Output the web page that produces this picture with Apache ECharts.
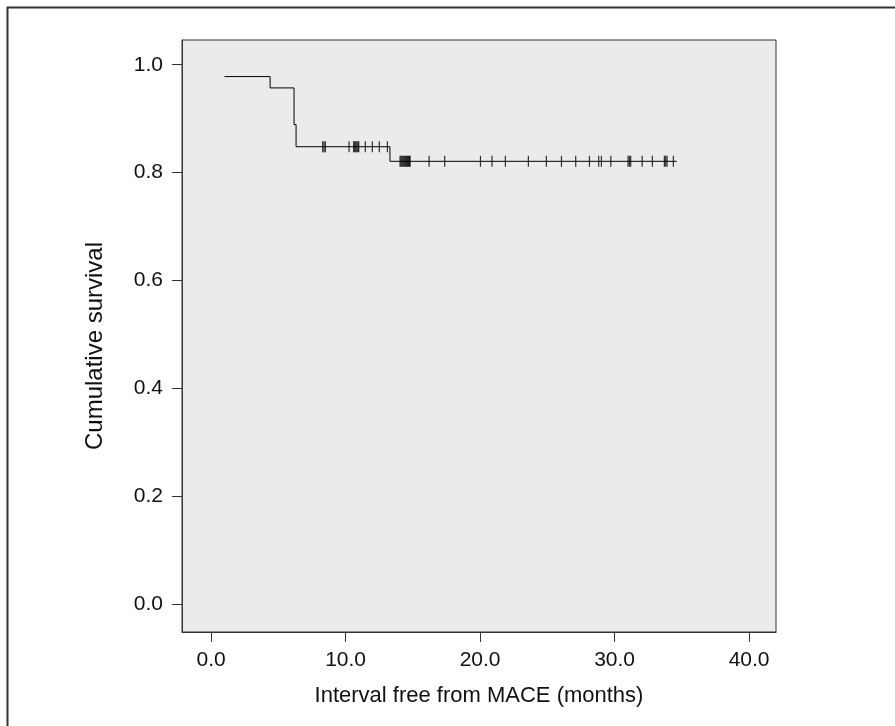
<!DOCTYPE html>
<html>
<head>
<meta charset="utf-8">
<script src="https://cdn.jsdelivr.net/npm/echarts@6/dist/echarts.min.js"></script>
<style>
html,body{margin:0;padding:0;background:#fff;}
#c{width:895px;height:726px;}
</style>
</head>
<body>
<div id="c"></div>
<script>
// Kaplan-Meier step curve: times where survival changes and survival after each
var stepTimes = [1.0, 4.39, 6.17, 6.32, 13.3];
var stepSurv  = [0.978, 0.957, 0.889, 0.848, 0.821];
var lastTime  = 34.62;

// censored observations (tick marks)
var censorHighTimes = [8.3, 8.4, 8.5, 10.26, 10.6, 10.68, 10.76, 10.84, 10.92, 10.98, 11.47, 11.99, 12.51, 13.11];
var censorHighLevel = 0.848;
var censorLowTimes = [14.05, 14.12, 14.19, 14.26, 14.33, 14.40, 14.47, 14.54, 14.61, 14.68, 14.75, 14.8,
  16.21, 17.37, 20.03, 20.89, 21.88, 23.59, 24.93, 26.05, 27.11, 28.13, 28.82, 29.02, 29.72,
  31.0, 31.1, 31.2, 32.05, 32.81, 33.7, 33.8, 33.9, 34.37];
var censorLowLevel = 0.821;

var xTicks = [0, 10, 20, 30, 40];
var yTicks = [0, 0.2, 0.4, 0.6, 0.8, 1.0];
var xTitle = 'Interval free from MACE (months)';
var yTitle = 'Cumulative survival';

var lineData = stepTimes.map(function(t, i){ return [t, stepSurv[i]]; });
lineData.push([lastTime, stepSurv[stepSurv.length - 1]]);
var censorData = censorHighTimes.map(function(t){ return [t, censorHighLevel]; })
  .concat(censorLowTimes.map(function(t){ return [t, censorLowLevel]; }));

var font = 'Liberation Sans, Arial, sans-serif';
var chart = echarts.init(document.getElementById('c'), null, {renderer: 'canvas'});
chart.setOption({
  animation: false,
  backgroundColor: '#ffffff',
  grid: {
    left: 182, top: 40, width: 594, height: 592,
    show: true, backgroundColor: '#ebebeb', borderColor: '#333', borderWidth: 1
  },
  xAxis: {
    type: 'value', min: -2.16, max: 42.0, position: 'bottom',
    name: xTitle,
    nameLocation: 'middle', nameGap: 53,
    nameTextStyle: {fontFamily: font, fontSize: 22, color: '#111'},
    axisLine: {show: true, onZero: false, lineStyle: {color: '#333', width: 1}},
    axisTick: {show: true, inside: false, length: 10, lineStyle: {color: '#333', width: 1}, customValues: xTicks},
    axisLabel: {show: true, customValues: xTicks, margin: 18, fontFamily: font, fontSize: 21, color: '#111',
      formatter: function(v){ return v.toFixed(1); }},
    splitLine: {show: false}
  },
  yAxis: {
    type: 'value', min: -0.0513, max: 1.0458, position: 'left',
    axisLine: {show: true, onZero: false, lineStyle: {color: '#333', width: 1}},
    axisTick: {show: true, inside: false, length: 10, lineStyle: {color: '#333', width: 1}, customValues: yTicks},
    axisLabel: {show: true, customValues: yTicks, margin: 19, fontFamily: font, fontSize: 21, color: '#111',
      formatter: function(v){ return v.toFixed(1); }},
    splitLine: {show: false}
  },
  series: [
    {
      type: 'line', step: 'end', data: lineData, symbol: 'none',
      lineStyle: {color: '#000', width: 1}, z: 3
    },
    {
      type: 'scatter', data: censorData, symbol: 'rect', symbolSize: [1.2, 11],
      itemStyle: {color: '#000'}, z: 4
    }
  ],
  graphic: [
    {type: 'line', shape: {x1: 7, y1: 7.5, x2: 895, y2: 7.5}, style: {stroke: '#333', lineWidth: 2}},
    {type: 'line', shape: {x1: 7.5, y1: 7, x2: 7.5, y2: 726}, style: {stroke: '#333', lineWidth: 2}},
    {type: 'text', x: 95, y: 346, rotation: Math.PI / 2,
      style: {text: yTitle, font: '24px ' + font, fill: '#111', textAlign: 'center', textVerticalAlign: 'middle'}}
  ]
});
</script>
</body>
</html>
